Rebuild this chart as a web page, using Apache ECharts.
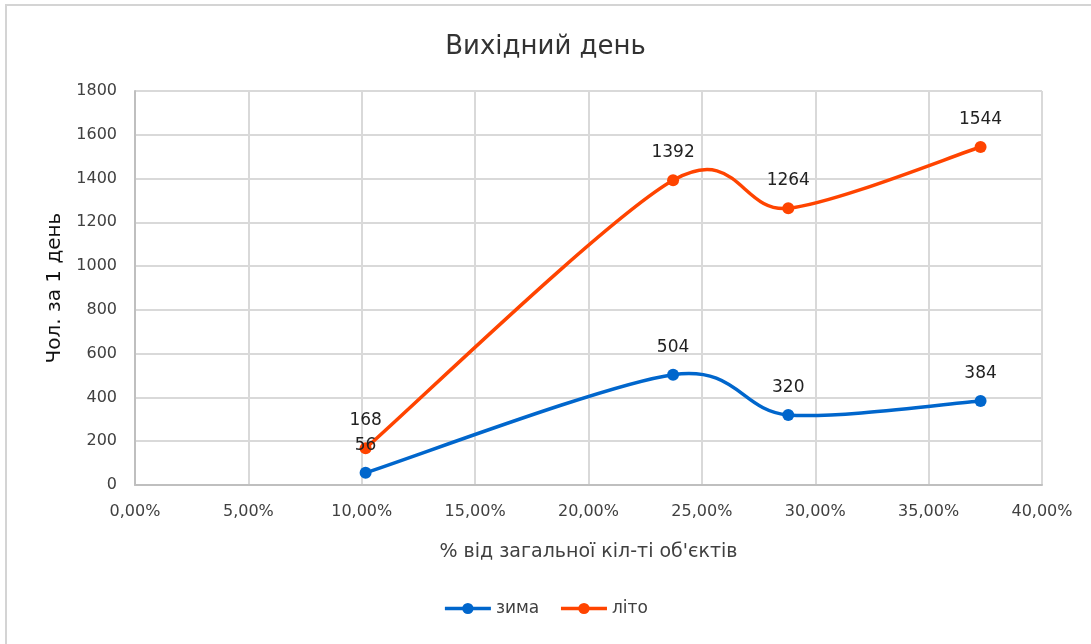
<!DOCTYPE html>
<html>
<head>
  <meta charset="utf-8">
  <title>Вихідний день</title>
  <script src="https://cdn.jsdelivr.net/npm/echarts/dist/echarts.min.js"></script>
  <style>
    html, body { margin: 0; padding: 0; background: #fff; }
    #chart { width: 1091px; height: 644px; }
  </style>
</head>
<body>
  <div id="chart"></div>
  <script>
    // частка об'єктів, %
    var shares = [10.17, 23.73, 28.81, 37.29];
    var winter = [56, 504, 320, 384];
    var summer = [168, 1392, 1264, 1544];
    var seriesNames = ['зима', 'літо'];
    var colors = ['#0066cc', '#ff4400'];

    function pairs(ys) {
      return ys.map(function (y, i) { return [shares[i], y]; });
    }

    // згладжування як в Excel (Catmull-Rom)
    function smoothSegment(ys, color) {
      var t = 1 / 6.5;
      return function (params, api) {
        var i = params.dataIndex;
        var n = ys.length;
        if (i >= n - 1) return;
        var p = function (k) {
          k = Math.max(0, Math.min(n - 1, k));
          return api.coord([shares[k], ys[k]]);
        };
        var p0 = p(i - 1), p1 = p(i), p2 = p(i + 1), p3 = p(i + 2);
        return {
          type: 'bezierCurve',
          shape: {
            x1: p1[0], y1: p1[1],
            cpx1: p1[0] + (p2[0] - p0[0]) * t, cpy1: p1[1] + (p2[1] - p0[1]) * t,
            cpx2: p2[0] - (p3[0] - p1[0]) * t, cpy2: p2[1] - (p3[1] - p1[1]) * t,
            x2: p2[0], y2: p2[1]
          },
          style: { stroke: color, lineWidth: 3.5, fill: null, lineCap: 'round' }
        };
      };
    }

    var txt = '#404040';
    var font = 'DejaVu Sans';
    var labelStyle = { show: true, position: 'top', distance: 13, fontSize: 17, color: '#222' };

    var myChart = echarts.init(document.getElementById('chart'));

    var option = {
      backgroundColor: '#fff',
      textStyle: { fontFamily: font },
      title: {
        text: 'Вихідний день',
        left: 'center',
        top: 29,
        textStyle: { fontSize: 26, fontWeight: 'normal', color: '#333', fontFamily: font }
      },
      graphic: [{
        type: 'rect',
        shape: { x: 6, y: 5, width: 1200, height: 800 },
        style: { fill: 'none', stroke: '#d4d4d4', lineWidth: 2 },
        silent: true
      }],
      legend: {
        bottom: 22,
        left: 'center',
        itemWidth: 46,
        itemHeight: 14,
        itemGap: 20,
        textStyle: { fontSize: 17, color: txt },
        data: [
          { name: seriesNames[0], lineStyle: { color: colors[0], width: 3.5, opacity: 1 } },
          { name: seriesNames[1], lineStyle: { color: colors[1], width: 3.5, opacity: 1 } }
        ]
      },
      grid: { left: 135, right: 49, top: 91, bottom: 159 },
      xAxis: {
        type: 'value',
        min: 0,
        max: 40,
        interval: 5,
        name: '% від загальної кіл-ті об\'єктів',
        nameLocation: 'middle',
        nameGap: 58,
        nameTextStyle: { fontSize: 19, color: txt },
        axisLine: { lineStyle: { color: '#bfbfbf', width: 2 } },
        axisTick: { show: false },
        axisLabel: {
          fontSize: 16,
          color: txt,
          margin: 19,
          formatter: function (v) { return v.toFixed(2).replace('.', ',') + '%'; }
        },
        splitLine: { lineStyle: { color: '#d9d9d9', width: 2 } }
      },
      yAxis: {
        type: 'value',
        min: 0,
        max: 1800,
        interval: 200,
        name: 'Чол. за 1 день',
        nameLocation: 'middle',
        nameGap: 70,
        nameTextStyle: { fontSize: 20, color: '#111' },
        axisLine: { show: true, lineStyle: { color: '#bfbfbf', width: 2 } },
        axisTick: { show: false },
        axisLabel: { fontSize: 16, color: txt, margin: 18, formatter: function (v) { return String(v); } },
        splitLine: { lineStyle: { color: '#d9d9d9', width: 2 } }
      },
      series: [
        {
          name: seriesNames[0],
          type: 'line',
          data: pairs(winter),
          symbol: 'circle',
          symbolSize: 12,
          color: colors[0],
          lineStyle: { width: 3.5, opacity: 0 },
          label: labelStyle,
          z: 3
        },
        {
          name: seriesNames[1],
          type: 'line',
          data: pairs(summer),
          symbol: 'circle',
          symbolSize: 12,
          color: colors[1],
          lineStyle: { width: 3.5, opacity: 0 },
          label: labelStyle,
          z: 3
        },
        {
          name: seriesNames[0],
          type: 'custom',
          data: pairs(winter),
          renderItem: smoothSegment(winter, colors[0]),
          silent: true,
          z: 2
        },
        {
          name: seriesNames[1],
          type: 'custom',
          data: pairs(summer),
          renderItem: smoothSegment(summer, colors[1]),
          silent: true,
          z: 2
        }
      ]
    };

    myChart.setOption(option);
  </script>
</body>
</html>
